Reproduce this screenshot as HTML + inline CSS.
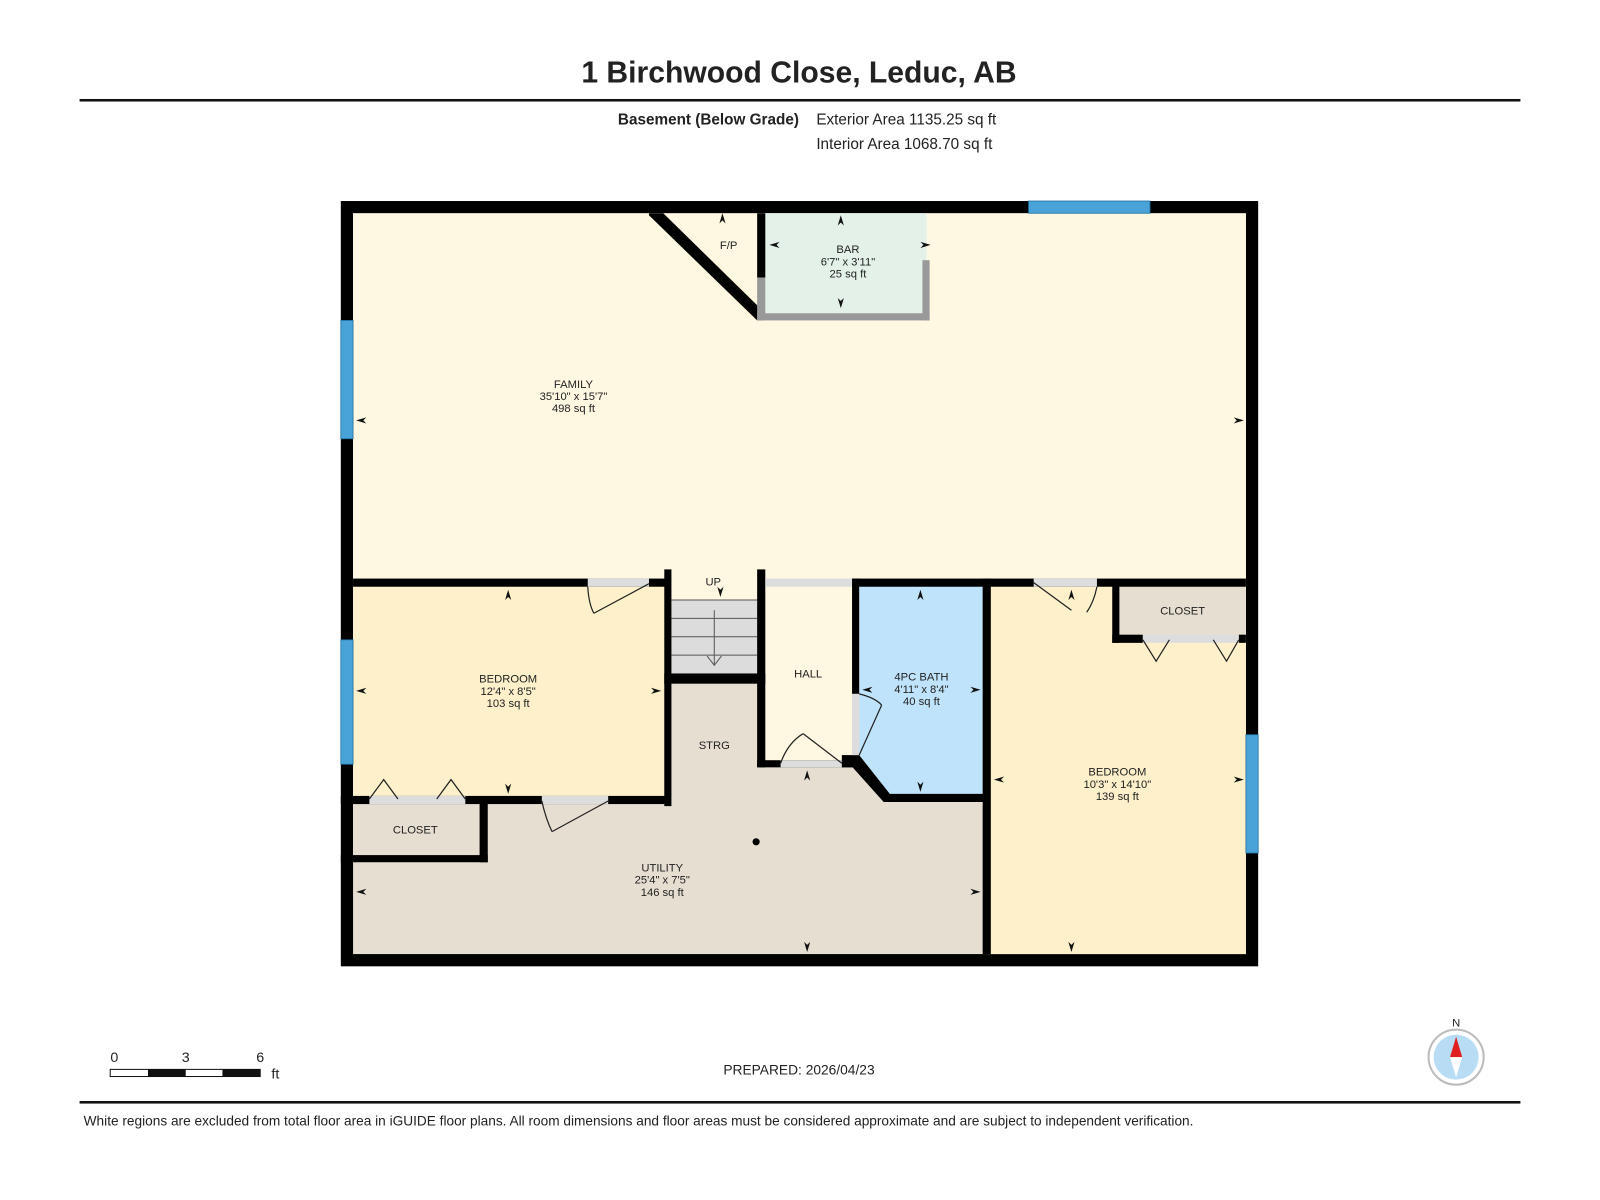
<!DOCTYPE html>
<html><head><meta charset="utf-8"><style>
html,body{margin:0;padding:0;background:#fff;}
svg{display:block;}
text{font-family:"Liberation Sans",Arial,sans-serif;fill:#222;}
.l{font-size:11px;text-anchor:middle;}
</style></head><body>
<svg width="1600" height="1200" viewBox="0 0 1568 1176" xmlns="http://www.w3.org/2000/svg">
<rect width="1568" height="1176" fill="#fff"/>
<text x="783" y="81" font-size="29.5" font-weight="bold" text-anchor="middle" fill="#111">1 Birchwood Close, Leduc, AB</text>
<rect x="78" y="97" width="1412" height="2.5" fill="#111"/>
<text x="783" y="122" font-size="15" font-weight="bold" text-anchor="end">Basement (Below Grade)</text>
<text x="800" y="122" font-size="15">Exterior Area 1135.25 sq ft</text>
<text x="800" y="146" font-size="15">Interior Area 1068.70 sq ft</text>

<rect x="334" y="197" width="899" height="750" fill="#000"/>
<rect x="346" y="209" width="875" height="726" fill="#e6ded1"/>
<rect x="346" y="209" width="875" height="362" fill="#fef7e1"/>
<rect x="346" y="571" width="309" height="213" fill="#fdf0cb"/>
<rect x="967" y="571" width="254" height="364" fill="#fdf0cb"/>
<rect x="346" y="784" width="128" height="58" fill="#e6ded1"/>
<rect x="1093" y="571" width="128" height="55" fill="#e6ded1"/>
<rect x="746" y="571" width="93" height="178" fill="#fef7e1"/>
<rect x="655" y="560" width="91" height="30" fill="#fef7e1"/>
<polygon points="842,571 967,571 967,782 870,782 842,746" fill="#bfe3fa"/>
<rect x="658" y="588" width="84" height="74" fill="#dcdcdc"/>
<g stroke="#555" stroke-width="1"><line x1="658" y1="588" x2="742" y2="588"/><line x1="658" y1="606" x2="742" y2="606"/><line x1="658" y1="624" x2="742" y2="624"/><line x1="658" y1="642" x2="742" y2="642"/><line x1="700" y1="598" x2="700" y2="652"/><polyline points="693,643 700,652 707,643" fill="none"/></g>
<rect x="750" y="209" width="158" height="98" fill="#e3f1e9"/>

<g fill="#000">
<rect x="346" y="567" width="309" height="8"/>
<rect x="651" y="558" width="7" height="232"/>
<rect x="742" y="558" width="8" height="194"/>
<rect x="835" y="567" width="386" height="8"/>
<rect x="651" y="660" width="99" height="10"/>
<rect x="334" y="780" width="321" height="8"/>
<rect x="470" y="784" width="8" height="61"/>
<rect x="334" y="838" width="144" height="7"/>
<rect x="742" y="745" width="93" height="7"/>
<rect x="835" y="567" width="7" height="113"/>
<rect x="825" y="740" width="17" height="12"/>
<polygon points="832,748 842,740 872,778 968,778 968,786 866,786"/>
<rect x="963" y="567" width="8" height="368"/>
<rect x="1090" y="571" width="7" height="59"/>
<rect x="1090" y="622" width="30" height="8"/>
<rect x="1214" y="622" width="7" height="8"/>
<polygon points="636,209 650,209 749,306 749,314 742,314 636,211"/>
<rect x="742" y="209" width="8" height="63"/>
</g>
<g fill="#c8c8c8">
<rect x="742" y="272" width="8" height="42" fill="#999"/>
<rect x="742" y="307" width="169" height="7" fill="#999"/>
<rect x="904" y="255" width="7" height="59" fill="#999"/>
<rect x="576" y="567" width="60" height="8" fill="#ddd"/>
<rect x="750" y="567" width="85" height="8" fill="#ddd"/>
<rect x="1013" y="567" width="62" height="8" fill="#ddd"/>
<rect x="1120" y="622" width="94" height="8" fill="#ddd"/>
<rect x="362" y="780" width="94" height="8" fill="#ddd"/>
<rect x="531" y="780" width="65" height="8" fill="#ddd"/>
<rect x="765" y="745" width="60" height="7" fill="#ddd"/>
<rect x="835" y="680" width="7" height="60" fill="#ddd"/>
</g>
<g stroke="#222" stroke-width="1.2" fill="none">
<line x1="636" y1="572" x2="582" y2="601"/><path d="M576,575 Q577,592 582,601"/>
<line x1="1013" y1="571" x2="1050" y2="598"/><path d="M1075,575 Q1072,590 1065,600"/>
<polyline points="1120,627 1133,648 1146,627"/><polyline points="1189,627 1202,648 1214,627"/>
<polyline points="362,783 376,764 390,783"/><polyline points="428,783 442,764 456,783"/>
<line x1="596" y1="785" x2="541" y2="815"/><path d="M531,785 Q535,803 541,815"/>
<line x1="825" y1="748" x2="787" y2="719"/><path d="M765,748 Q772,728 787,719"/>
<line x1="842" y1="740" x2="864" y2="691"/><path d="M842,680 Q858,684 864,691"/>
</g>
<g fill="#4aa3d8" stroke="#1f6fa0" stroke-width="0.8">
<rect x="334" y="314" width="12" height="116"/>
<rect x="334" y="627" width="12" height="122"/>
<rect x="1008" y="197" width="119" height="12"/>
<rect x="1221" y="720" width="12" height="116"/>
</g>
<circle cx="741" cy="825" r="3.5" fill="#000"/>

<g fill="#111">
<polygon points="708,209 705,219 708,216 711,219"/>
<polygon points="824,211 821,221 824,218 827,221"/>
<polygon points="824,302 821,292 824,295 827,292"/>
<polygon points="754,240 764,237 761,240 764,243"/>
<polygon points="912,240 902,237 905,240 902,243"/>
<polygon points="349,412 359,409 356,412 359,415"/>
<polygon points="1219,412 1209,409 1212,412 1209,415"/>
<polygon points="498,578 495,588 498,585 501,588"/>
<polygon points="498,778 495,768 498,771 501,768"/>
<polygon points="349,677 359,674 356,677 359,680"/>
<polygon points="648,677 638,674 641,677 638,680"/>
<polygon points="706,585 703,575 706,578 709,575"/>
<polygon points="902,578 899,588 902,585 905,588"/>
<polygon points="902,776 899,766 902,769 905,766"/>
<polygon points="845,676 855,673 852,676 855,679"/>
<polygon points="961,676 951,673 954,676 951,679"/>
<polygon points="1050,578 1047,588 1050,585 1053,588"/>
<polygon points="1050,933 1047,923 1050,926 1053,923"/>
<polygon points="974,764 984,761 981,764 984,767"/>
<polygon points="1219,764 1209,761 1212,764 1209,767"/>
<polygon points="791,755 788,765 791,762 794,765"/>
<polygon points="791,933 788,923 791,926 794,923"/>
<polygon points="349,874 359,871 356,874 359,877"/>
<polygon points="961,874 951,871 954,874 951,877"/>
</g>

<g>
<text class="l" x="562" y="380">FAMILY</text><text class="l" x="562" y="392">35'10" x 15'7"</text><text class="l" x="562" y="404">498 sq ft</text>
<text class="l" x="831" y="248">BAR</text><text class="l" x="831" y="260">6'7" x 3'11"</text><text class="l" x="831" y="272">25 sq ft</text>
<text class="l" x="714" y="244">F/P</text>
<text class="l" x="699" y="574">UP</text>
<text class="l" x="498" y="669">BEDROOM</text><text class="l" x="498" y="681">12'4" x 8'5"</text><text class="l" x="498" y="693">103 sq ft</text>
<text class="l" x="700" y="734">STRG</text>
<text class="l" x="792" y="664">HALL</text>
<text class="l" x="903" y="667">4PC BATH</text><text class="l" x="903" y="679">4'11" x 8'4"</text><text class="l" x="903" y="691">40 sq ft</text>
<text class="l" x="1159" y="602">CLOSET</text>
<text class="l" x="1095" y="760">BEDROOM</text><text class="l" x="1095" y="772">10'3" x 14'10"</text><text class="l" x="1095" y="784">139 sq ft</text>
<text class="l" x="407" y="817">CLOSET</text>
<text class="l" x="649" y="854">UTILITY</text><text class="l" x="649" y="866">25'4" x 7'5"</text><text class="l" x="649" y="878">146 sq ft</text>
</g>

<text x="112" y="1041" font-size="14" text-anchor="middle">0</text>
<text x="182" y="1041" font-size="14" text-anchor="middle">3</text>
<text x="255" y="1041" font-size="14" text-anchor="middle">6</text>
<rect x="108" y="1048" width="147" height="7" fill="#fff" stroke="#111" stroke-width="1"/>
<rect x="145" y="1048" width="37" height="7" fill="#111"/>
<rect x="218" y="1048" width="37" height="7" fill="#111"/>
<text x="266" y="1057" font-size="14">ft</text>
<text x="783" y="1053" font-size="13.5" text-anchor="middle">PREPARED: 2026/04/23</text>
<text x="1427" y="1006" font-size="11" text-anchor="middle">N</text>
<circle cx="1427" cy="1036" r="27" fill="#fff" stroke="#bbb" stroke-width="2"/>
<circle cx="1427" cy="1036" r="22" fill="#b7dcf3"/>
<polygon points="1427,1016 1421,1036 1433,1036" fill="#e02020"/>
<polygon points="1427,1056 1421,1036 1433,1036" fill="#fff"/>
<rect x="78" y="1079" width="1412" height="2.5" fill="#111"/>
<text x="82" y="1103" font-size="13.4">White regions are excluded from total floor area in iGUIDE floor plans. All room dimensions and floor areas must be considered approximate and are subject to independent verification.</text>
</svg>
</body></html>
